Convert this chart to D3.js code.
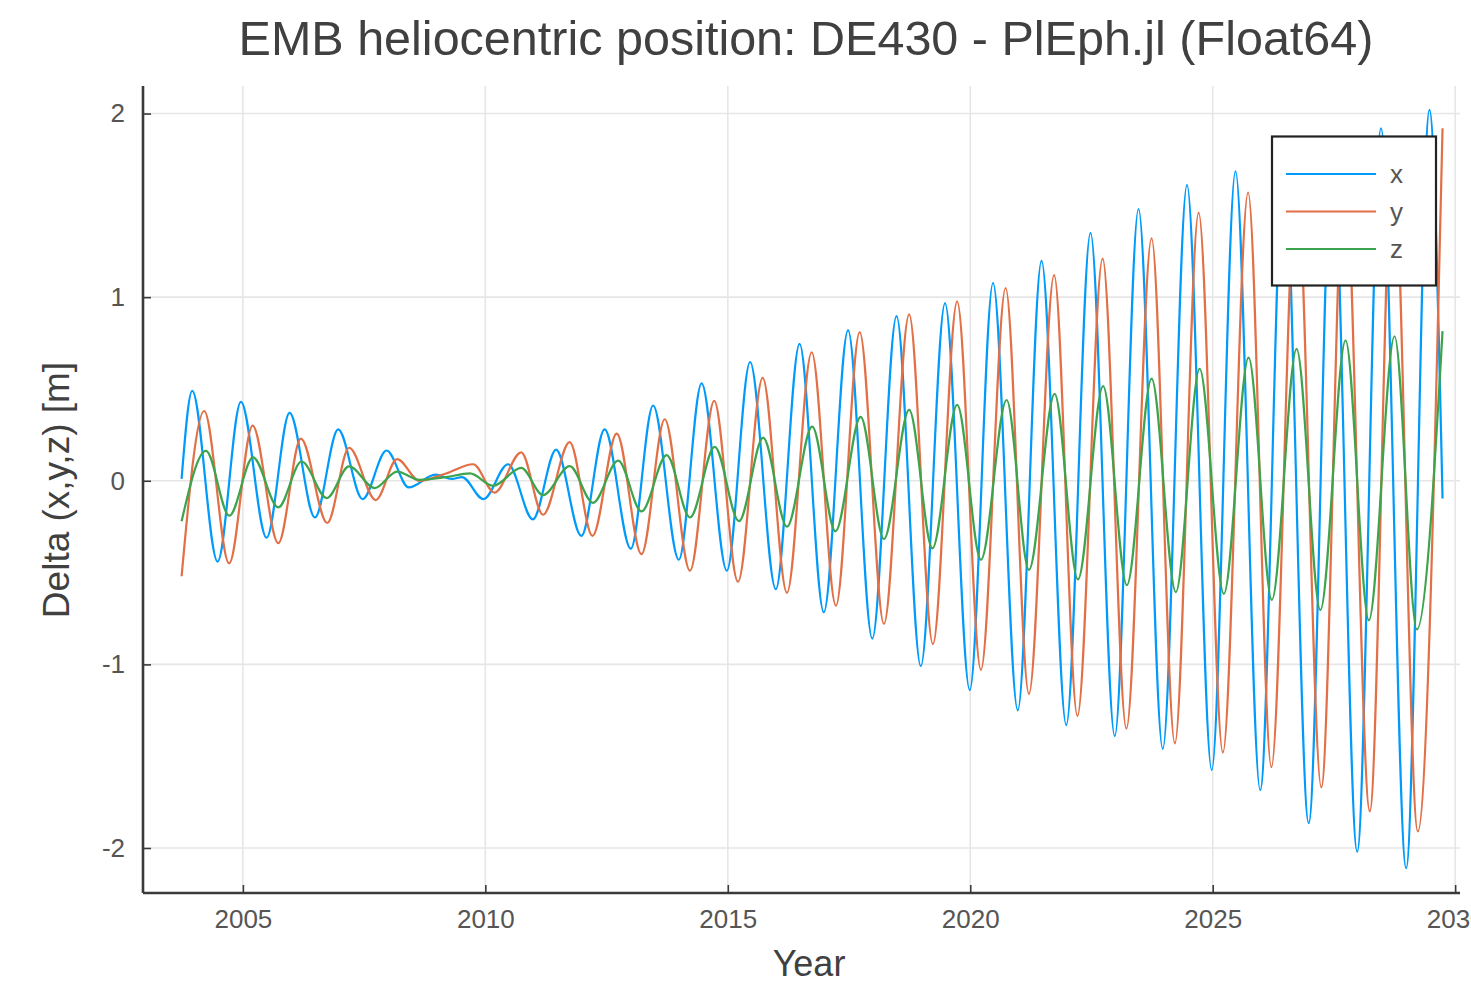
<!DOCTYPE html>
<html>
<head>
<meta charset="utf-8">
<script src="https://cdn.jsdelivr.net/npm/d3@7"></script>
<style>
  html, body { margin: 0; padding: 0; background: #fff; }
  svg { display: block; font-family: "Liberation Sans", Arial, Helvetica, sans-serif; }
</style>
</head>
<body>
<svg id="chart" width="1471" height="983"></svg>
<script>
// Difference DE430 - PlEph.jl of the Earth-Moon barycentre position, metres.
// Each series is listed as [year, delta] at its turning points.
const xDelta = [
  [2003.736, 0.01], [2003.955, 0.49], [2004.478, -0.44], [2004.959, 0.43],
  [2005.489, -0.31], [2005.963, 0.37], [2006.485, -0.20], [2006.965, 0.28],
  [2007.468, -0.10], [2007.963, 0.165], [2008.42, -0.036], [2008.97, 0.033],
  [2009.31, 0.01], [2009.52, 0.02], [2009.96, -0.10], [2010.47, 0.09],
  [2010.98, -0.21], [2011.46, 0.17], [2011.98, -0.30], [2012.46, 0.28],
  [2013.00, -0.37], [2013.46, 0.41], [2013.99, -0.43], [2014.46, 0.53],
  [2014.98, -0.49], [2015.46, 0.647], [2015.99, -0.59], [2016.48, 0.746],
  [2016.98, -0.716], [2017.48, 0.82], [2017.98, -0.86], [2018.48, 0.897],
  [2018.98, -1.01], [2019.48, 0.967], [2019.99, -1.14], [2020.47, 1.077],
  [2020.98, -1.25], [2021.47, 1.198], [2021.98, -1.33], [2022.48, 1.35],
  [2022.98, -1.39], [2023.47, 1.48], [2023.97, -1.46], [2024.47, 1.61],
  [2024.98, -1.575], [2025.47, 1.685], [2025.98, -1.685], [2026.47, 1.77],
  [2026.98, -1.865], [2027.47, 1.85], [2027.98, -2.02], [2028.47, 1.92],
  [2028.99, -2.11], [2029.47, 2.02], [2029.74, -0.097]
];

const yDelta = [
  [2003.736, -0.52], [2004.202, 0.38], [2004.716, -0.45], [2005.20, 0.30],
  [2005.73, -0.34], [2006.196, 0.23], [2006.74, -0.23], [2007.19, 0.18],
  [2007.74, -0.105], [2008.18, 0.118], [2008.64, 0.0], [2009.19, 0.04],
  [2009.75, 0.09], [2010.19, -0.064], [2010.74, 0.155], [2011.19, -0.185],
  [2011.74, 0.21], [2012.21, -0.30], [2012.71, 0.257], [2013.22, -0.40],
  [2013.70, 0.335], [2014.22, -0.49], [2014.72, 0.435], [2015.21, -0.55],
  [2015.72, 0.56], [2016.22, -0.61], [2016.73, 0.70], [2017.23, -0.68],
  [2017.72, 0.81], [2018.22, -0.78], [2018.74, 0.906], [2019.23, -0.89],
  [2019.73, 0.977], [2020.22, -1.03], [2020.73, 1.05], [2021.21, -1.16],
  [2021.73, 1.12], [2022.21, -1.28], [2022.73, 1.21], [2023.22, -1.35],
  [2023.74, 1.32], [2024.22, -1.43], [2024.71, 1.46], [2025.21, -1.48],
  [2025.73, 1.57], [2026.21, -1.56], [2026.73, 1.66], [2027.24, -1.67],
  [2027.72, 1.74], [2028.24, -1.80], [2028.72, 1.83], [2029.23, -1.91],
  [2029.74, 1.92]
];

const zDelta = [
  [2003.736, -0.22], [2004.24, 0.163], [2004.72, -0.19], [2005.21, 0.127],
  [2005.73, -0.145], [2006.21, 0.105], [2006.73, -0.094], [2007.19, 0.078],
  [2007.72, -0.04], [2008.18, 0.05], [2008.64, 0.005], [2009.19, 0.02],
  [2009.68, 0.04], [2010.16, -0.027], [2010.74, 0.07], [2011.19, -0.078],
  [2011.74, 0.08], [2012.22, -0.12], [2012.74, 0.11], [2013.22, -0.167],
  [2013.74, 0.14], [2014.22, -0.20], [2014.73, 0.185], [2015.23, -0.22],
  [2015.73, 0.235], [2016.22, -0.25], [2016.74, 0.295], [2017.22, -0.275],
  [2017.74, 0.348], [2018.22, -0.317], [2018.74, 0.386], [2019.22, -0.368],
  [2019.73, 0.413], [2020.22, -0.43], [2020.75, 0.44], [2021.21, -0.485],
  [2021.74, 0.473], [2022.22, -0.5375], [2022.74, 0.515], [2023.23, -0.569],
  [2023.74, 0.556], [2024.24, -0.606], [2024.73, 0.61], [2025.23, -0.616],
  [2025.74, 0.671], [2026.22, -0.649], [2026.73, 0.718], [2027.22, -0.704],
  [2027.74, 0.765], [2028.22, -0.76], [2028.75, 0.787], [2029.21, -0.81],
  [2029.74, 0.815]
];

const seriesNames = ["x", "y", "z"];
const seriesColors = ["#009AFA", "#E26F46", "#3DA44D"];
const xTicks = [2005, 2010, 2015, 2020, 2025, 2030];
const yTicks = [-2, -1, 0, 1, 2];

const chartTitle = "EMB heliocentric position: DE430 - PlEph.jl (Float64)";
const xLabel = "Year";
const yLabel = "Delta (x,y,z) [m]";

const svg = d3.select("#chart");
const plot = { left: 143, right: 1460, top: 86, bottom: 893 };

const x = d3.scaleLinear().domain([2002.94, 2030.1]).range([plot.left, plot.right]);
const y = d3.scaleLinear().domain([-2.245, 2.15]).range([plot.bottom, plot.top]);

// grid
const grid = svg.append("g").attr("stroke", "#e6e6e6").attr("stroke-width", 1.6);
grid.selectAll("line.v").data(xTicks).join("line")
  .attr("x1", d => x(d)).attr("x2", d => x(d))
  .attr("y1", plot.top).attr("y2", plot.bottom);
grid.selectAll("line.h").data(yTicks).join("line")
  .attr("x1", plot.left).attr("x2", plot.right)
  .attr("y1", d => y(d)).attr("y2", d => y(d));

// series
const line = d3.line()
  .x(d => x(d[0]))
  .y(d => y(d[1]))
  .curve(d3.curveMonotoneX);

const allSeries = [xDelta, yDelta, zDelta];
svg.append("g").selectAll("path").data(allSeries).join("path")
  .attr("d", line)
  .attr("fill", "none")
  .attr("stroke", (d, i) => seriesColors[i])
  .attr("stroke-width", 2.2)
  .attr("stroke-linejoin", "round");

// axes (ticks point into the plot)
const xAxis = d3.axisBottom(x).tickValues(xTicks).tickSize(-8).tickPadding(17)
  .tickFormat(d3.format("d"));
const gx = svg.append("g").attr("transform", `translate(0,${plot.bottom})`).call(xAxis);
gx.select(".domain").attr("stroke", "#3a3a3a").attr("stroke-width", 2.6)
  .attr("d", `M${plot.left},0H${plot.right}`);
gx.selectAll(".tick line").attr("stroke", "#3a3a3a").attr("stroke-width", 1.6);
gx.selectAll(".tick text").attr("fill", "#555").attr("font-size", 26)
  .attr("font-family", "Liberation Sans, Arial, sans-serif");

const yAxis = d3.axisLeft(y).tickValues(yTicks).tickSize(-8).tickPadding(18)
  .tickFormat(d => String(d));
const gy = svg.append("g").attr("transform", `translate(${plot.left},0)`).call(yAxis);
gy.select(".domain").attr("stroke", "#3a3a3a").attr("stroke-width", 2.6)
  .attr("d", `M0,${plot.top}V${plot.bottom}`);
gy.selectAll(".tick line").attr("stroke", "#3a3a3a").attr("stroke-width", 1.6);
gy.selectAll(".tick text").attr("fill", "#555").attr("font-size", 26)
  .attr("font-family", "Liberation Sans, Arial, sans-serif");

// title and axis labels
svg.append("text")
  .attr("x", 806).attr("y", 55)
  .attr("text-anchor", "middle")
  .attr("font-size", 48.5)
  .attr("fill", "#404040")
  .text(chartTitle);

svg.append("text")
  .attr("x", 809).attr("y", 976)
  .attr("text-anchor", "middle")
  .attr("font-size", 36)
  .attr("fill", "#404040")
  .text(xLabel);

svg.append("text")
  .attr("transform", "translate(69,490) rotate(-90)")
  .attr("text-anchor", "middle")
  .attr("font-size", 37)
  .attr("fill", "#404040")
  .text(yLabel);

// legend
const legend = svg.append("g");
legend.append("rect")
  .attr("x", 1272).attr("y", 136.5)
  .attr("width", 164).attr("height", 149)
  .attr("fill", "#fff")
  .attr("stroke", "#222").attr("stroke-width", 2.2);
const rowY = d3.scalePoint().domain(seriesNames).range([174, 249]);
const rows = legend.selectAll("g.row").data(seriesNames).join("g")
  .attr("transform", d => `translate(0,${rowY(d)})`);
rows.append("line")
  .attr("x1", 1286).attr("x2", 1376)
  .attr("stroke", (d, i) => seriesColors[i]).attr("stroke-width", 2.2);
rows.append("text")
  .attr("x", 1390).attr("y", 9)
  .attr("font-size", 26).attr("fill", "#555")
  .text(d => d);
</script>
</body>
</html>
